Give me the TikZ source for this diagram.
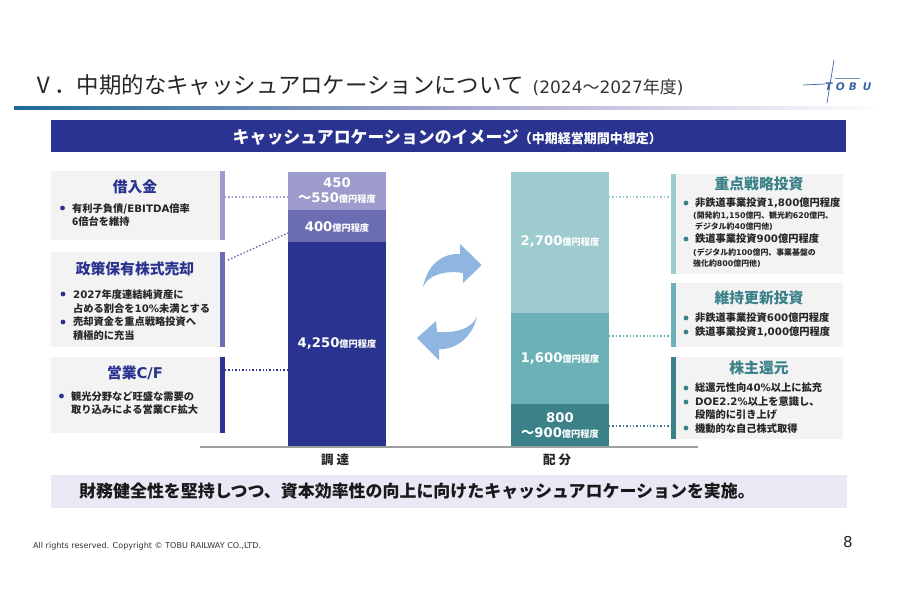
\documentclass[tikz,border=0pt]{standalone}
\usepackage{fontspec}
\setmainfont{Noto Sans CJK JP}
\newfontfamily\latinbold{DejaVu Sans}
\newcommand{\vn}[1]{{\latinbold\bfseries #1}}
\newcommand{\fs}[1]{\fontsize{#1}{#1}\selectfont}
\newcommand{\fsl}[2]{\fontsize{#1}{#2}\selectfont}
\newcommand{\bignum}[1]{{\fs{13.2}\vn{#1}}}
\newcommand{\oku}{{\fs{9.2}億円程度}}
\definecolor{navy}{HTML}{2A338F}
\definecolor{navymid}{HTML}{6A6DB2}
\definecolor{navylite}{HTML}{9C9BCB}
\definecolor{teal}{HTML}{3A8188}
\definecolor{tealmid}{HTML}{6CB0B8}
\definecolor{teallite}{HTML}{9DCBD0}
\definecolor{panelgray}{HTML}{F3F3F3}
\definecolor{bandlav}{HTML}{E8E9F5}
\definecolor{arrowblue}{HTML}{8FB5E1}
\definecolor{logoblue}{HTML}{3C62A5}
\definecolor{ruledark}{HTML}{1B6A96}
\tikzset{
	boxnode/.style={inner sep=0, outer sep=0, anchor=north west},
	segtext/.style={inner sep=0, text=white, font=\bfseries, align=center},
	headtext/.style={inner sep=0, font=\fs{14.8}\bfseries},
	bodytext/.style={inner sep=0, anchor=west, align=left, font=\fsl{10.25}{13.7}\bfseries, text=black!85},
	smalltext/.style={inner sep=0, anchor=west, align=left, font=\fsl{7.9}{11}\bfseries, text=black!85},
	dotlink/.style={line width=0.5mm, dotted},
}
\begin{document}
\begin{tikzpicture}[x=1pt,y=-1pt]
	%%%%% START %%%%%
	\useasboundingbox (0,0) rectangle (898,614);
	\fill[white] (0,0) rectangle (898,614);

	% title
	\node[inner sep=0, anchor=base west, font=\fs{22.4}, text=black!85] (titleMain) at (32,93) {Ⅴ．中期的なキャッシュアロケーションについて};
	\node[inner sep=0, anchor=base west, font=\fs{17}, text=black!80] (titleYear) at (532.5,93) {{\latinbold (2024}～{\latinbold 2027}年度{\latinbold )}};
	\shade[left color=ruledark, right color=white, middle color=navylite!90!white] (14,106.5) rectangle (885,109.5);

	% logo
	\draw[logoblue, line width=0.7pt] (834,60) -- (827,103);
	\draw[logoblue, line width=0.7pt] (803,85) -- (825,84);
	\draw[logoblue!70, line width=0.7pt] (835,78) -- (860,78);
	\node[inner sep=0, anchor=base west, text=logoblue, font=\fs{10.5}\latinbold\bfseries\itshape] (logoText) at (825,90) {T\kern3.5pt O\kern4pt B\kern6pt U};

	% banner
	\node[boxnode, fill=navy, minimum width=795pt, minimum height=32pt] (banner) at (51,120) {};
	\node[inner sep=0, anchor=west, text=white, font=\bfseries] (bannerText) at (232.5,137) {{\fs{16.9}キャッシュアロケーションのイメージ}{\fs{13}（中期経営期間中想定）}};

	% left panels
	\node[boxnode, fill=panelgray, minimum width=169pt, minimum height=69pt] (panelA) at (51,171) {};
	\node[boxnode, fill=navylite, minimum width=5pt, minimum height=69pt] (accA) at (220,171) {};
	\node[boxnode, fill=panelgray, minimum width=169pt, minimum height=95pt] (panelB) at (51,252) {};
	\node[boxnode, fill=navymid, minimum width=5pt, minimum height=95pt] (accB) at (220,252) {};
	\node[boxnode, fill=panelgray, minimum width=169pt, minimum height=76pt] (panelC) at (51,357) {};
	\node[boxnode, fill=navy, minimum width=5pt, minimum height=76pt] (accC) at (220,357) {};

	\node[headtext, text=navy] (headA) at (135,187) {借入金};
	\fill[navy] (62.5,208) circle (2.4);
	\node[bodytext] (bodyA) at (72,215) {有利子負債/\vn{EBITDA}倍率\\6倍台を維持};

	\node[headtext, text=navy] (headB) at (135,269) {政策保有株式売却};
	\fill[navy] (63,294) circle (2.4);
	\fill[navy] (63,322) circle (2.4);
	\node[bodytext] (bodyB) at (73,315) {\vn{2027}年度連結純資産に\\占める割合を\vn{10\%}未満とする\\売却資金を重点戦略投資へ\\積極的に充当};

	\node[headtext, text=navy] (headC) at (135,373) {営業\vn{C/F}};
	\fill[navy] (61.5,396) circle (2.4);
	\node[bodytext] (bodyC) at (71,403) {観光分野など旺盛な需要の\\取り込みによる営業\vn{CF}拡大};

	% bars
	\node[boxnode, fill=navylite, minimum width=98pt, minimum height=38pt] (segA) at (288,172) {};
	\node[boxnode, fill=navymid, minimum width=98pt, minimum height=32pt] (segB) at (288,210) {};
	\node[boxnode, fill=navy, minimum width=98pt, minimum height=205pt] (segC) at (288,242) {};
	\node[boxnode, fill=teallite, minimum width=98pt, minimum height=141pt] (segD) at (511,172) {};
	\node[boxnode, fill=tealmid, minimum width=98pt, minimum height=91pt] (segE) at (511,313) {};
	\node[boxnode, fill=teal, minimum width=98pt, minimum height=43pt] (segF) at (511,404) {};

	\node[segtext] (numA) at (337,183) {\bignum{450}};
	\node[segtext] (numAb) at (337,198) {{\fs{13.2}～}\bignum{550}\oku};
	\node[segtext] (numB) at (337,227) {\bignum{400}\oku};
	\node[segtext] (numC) at (337,344) {\bignum{4,250}\oku};
	\node[segtext] (numD) at (560,242) {\bignum{2,700}\oku};
	\node[segtext] (numE) at (560,359) {\bignum{1,600}\oku};
	\node[segtext] (numF) at (560,418) {\bignum{800}};
	\node[segtext] (numFb) at (560,433) {{\fs{13.2}～}\bignum{900}\oku};

	\draw[black!38, line width=2pt] (200,447) -- (698,447);
	\node[inner sep=0, font=\fs{12.5}\bfseries, text=black!85] (labelIn) at (335,459.5) {調\kern3pt 達};
	\node[inner sep=0, font=\fs{12.5}\bfseries, text=black!85] (labelOut) at (557,459.5) {配\kern3pt 分};

	% arrows
	\fill[arrowblue] (423,287) .. controls (428,262) and (445,253) .. (460,254) -- (460,244) -- (481.7,265) -- (463,283) -- (463,273) .. controls (445,270) and (428,275) .. (423,287) -- cycle;
	\fill[arrowblue] (477,317) .. controls (472,338) and (455,350) .. (439,349) -- (439,360) -- (417,338) -- (436,321) -- (437,332) .. controls (455,333) and (470,330) .. (477,317) -- cycle;

	% right panels
	\node[boxnode, fill=panelgray, minimum width=167pt, minimum height=100pt] (panelD) at (676,174) {};
	\node[boxnode, fill=teallite, minimum width=5pt, minimum height=100pt] (accD) at (671,174) {};
	\node[boxnode, fill=panelgray, minimum width=167pt, minimum height=64pt] (panelE) at (676,283) {};
	\node[boxnode, fill=tealmid, minimum width=5pt, minimum height=64pt] (accE) at (671,283) {};
	\node[boxnode, fill=panelgray, minimum width=167pt, minimum height=82pt] (panelF) at (676,357) {};
	\node[boxnode, fill=teal, minimum width=5pt, minimum height=82pt] (accF) at (671,357) {};

	\node[headtext, text=teal] (headD) at (759,184) {重点戦略投資};
	\fill[teal] (686,203) circle (2.4);
	\fill[teal] (686,239) circle (2.4);
	\node[bodytext] (bodyDa) at (695,203) {非鉄道事業投資\vn{1,800}億円程度};
	\node[smalltext] (subDa) at (693,221.5) {\vn{(}開発約\vn{1,150}億円、観光約\vn{620}億円、\\\hspace*{2pt}デジタル約\vn{40}億円他\vn{)}};
	\node[bodytext] (bodyDb) at (695,239) {鉄道事業投資\vn{900}億円程度};
	\node[smalltext] (subDb) at (693,258.5) {\vn{(}デジタル約\vn{100}億円、事業基盤の\\強化約\vn{800}億円他\vn{)}};

	\node[headtext, text=teal] (headE) at (759,298) {維持更新投資};
	\fill[teal] (686,318) circle (2.4);
	\fill[teal] (686,332) circle (2.4);
	\node[bodytext] (bodyE) at (695,325) {非鉄道事業投資\vn{600}億円程度\\鉄道事業投資\vn{1,000}億円程度};

	\node[headtext, text=teal] (headF) at (759,368) {株主還元};
	\fill[teal] (686,388) circle (2.4);
	\fill[teal] (686,402) circle (2.4);
	\fill[teal] (686,428) circle (2.4);
	\node[bodytext] (bodyF) at (695,408) {総還元性向\vn{40\%}以上に拡充\\\vn{DOE2.2\%}以上を意識し、\\段階的に引き上げ\\機動的な自己株式取得};

	% dotted links
	\draw[dotlink, navylite] (accA.east |- 0,197) -- (segA.west |- 0,197);
	\draw[dotlink, navymid] ([xshift=3pt,yshift=-8pt]accB.north east) -- ([yshift=-7pt]segB.west);
	\draw[dotlink, navy] (accC.east |- 0,370) -- (segC.west |- 0,370);
	\draw[dotlink, teallite] (segD.east |- 0,197) -- (accD.west |- 0,197);
	\draw[dotlink, tealmid] (segE.east |- 0,336) -- (accE.west |- 0,336);
	\draw[dotlink, teal] (segF.east |- 0,426) -- (accF.west |- 0,426);

	% bottom band
	\node[boxnode, fill=bandlav, minimum width=796pt, minimum height=33pt] (band) at (51,475) {};
	\node[inner sep=0, anchor=west, font=\fs{16.95}\bfseries, text=black!90] (bandText) at (79,491) {財務健全性を堅持しつつ、資本効率性の向上に向けたキャッシュアロケーションを実施。};

	% footer
	\node[inner sep=0, anchor=west, font=\fs{8.05}\latinbold, text=black!80] (footerText) at (33,546) {All rights reserved. Copyright © TOBU RAILWAY CO.,LTD.};
	\node[inner sep=0, font=\fs{15}\latinbold, text=black!85] (pageNum) at (848,542) {8};
	%%%%% END %%%%%
\end{tikzpicture}
\end{document}
